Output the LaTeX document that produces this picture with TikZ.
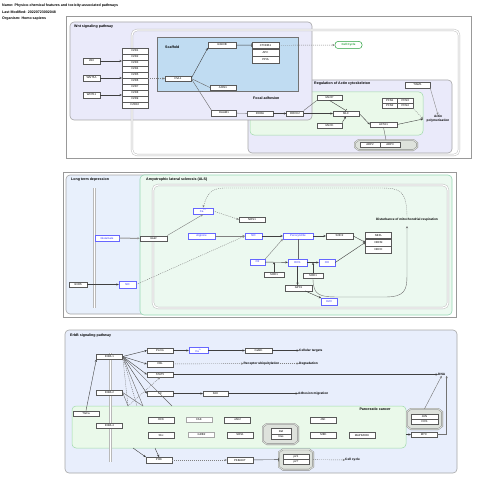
\documentclass[tikz,border=0pt]{standalone}
\usepackage{fontspec}
\setmainfont{Liberation Sans}
\usetikzlibrary{arrows.meta,positioning}
\definecolor{wntbg}{RGB}{234,234,250}
\definecolor{erbbg}{RGB}{232,238,252}
\definecolor{scafbg}{RGB}{192,220,242}
\definecolor{greenbg}{RGB}{234,249,234}
\definecolor{greenln}{RGB}{160,218,170}
\definecolor{ltdbg}{RGB}{232,240,252}
\definecolor{alsbg}{RGB}{236,249,240}
\definecolor{alsln}{RGB}{150,215,180}
\definecolor{cellgreen}{RGB}{40,160,60}
\definecolor{grpbg}{RGB}{222,226,220}
% octagon outline round a group node
\newcommand\octgrp[1]{\draw[grpline] ([yshift=-3pt]#1.north west) -- ([xshift=4pt]#1.north west) -- ([xshift=-4pt]#1.north east) -- ([yshift=-3pt]#1.north east) -- ([yshift=3pt]#1.south east) -- ([xshift=-4pt]#1.south east) -- ([xshift=4pt]#1.south west) -- ([yshift=3pt]#1.south west) -- cycle;}
\begin{document}
\begin{tikzpicture}[x=1pt,y=-1pt,
  gene/.style={draw=black!65, fill=white, line width=0.35pt, minimum width=26pt, minimum height=5.5pt, inner sep=0pt, font=\fontsize{2.8}{3}\selectfont},
  metab/.style={gene, draw=blue!60, text=blue!80, line width=0.45pt},
  grp/.style={inner sep=0pt},
  grpline/.style={draw=black!50, double=grpbg, double distance=0.9pt, line width=0.35pt, fill=grpbg},
  ttl/.style={font=\bfseries\fontsize{3.6}{4}\selectfont, anchor=west, inner sep=0pt},
  txt/.style={font=\bfseries\fontsize{3.2}{3.8}\selectfont, inner sep=0pt, align=center},
  panel/.style={draw=gray!70, line width=0.6pt, rounded corners=4pt},
  dbl/.style={draw=gray!55, double=white, double distance=1.3pt, line width=0.45pt, rounded corners=5pt},
  arr/.style={-{Stealth[length=2.4pt,width=2.2pt]}, draw=black!75, line width=0.4pt},
  dasharr/.style={arr, draw=black!50, dash pattern=on 1pt off 1pt},
  tbar/.style={-{Bar[width=3.5pt]}, draw=black!75, line width=0.4pt},
  plain/.style={draw=black!60, line width=0.4pt}]
\useasboundingbox (0,0) rectangle (480,484);
% header
\node[ttl] (hname) at (2,6) {Name: Physico-chemical features and toxicity-associated pathways};
\node[ttl] (hdate) at (2,12.5) {Last Modified: 20220723002048};
\node[ttl] (horg) at (2,19) {Organism: Homo sapiens};

% ---- Wnt / focal adhesion / actin
\draw[gray!80, line width=0.5pt] (66,16) rectangle (471,158);
\draw[panel, fill=wntbg] (248,80) rectangle (452,153);
\draw[rounded corners=4pt, draw=greenln, fill=greenbg, line width=0.5pt] (250,92) rectangle (423,135);
\draw[panel, fill=wntbg] (70,22) rectangle (312,120);
\draw[dbl] (132,30) rectangle (459,155);
\draw[draw=black!55, fill=scafbg, line width=0.5pt] (157,37) rectangle (298,91);
\node[ttl] (twnt) at (74,27) {Wnt signaling pathway};
\node[ttl] (tscaf) at (165,47) {Scaffold};
\node[ttl] (tfocal) at (253,98) {Focal adhesion};
\node[ttl] (tactin) at (314,84) {Regulation of Actin cytoskeleton};

\foreach \i in {1,...,10}
  \node[gene, minimum height=6pt] (fzd\i) at (135,45+6*\i) {FZD\i};
\node[gene, minimum width=17pt] (wnt) at (91.5,61) {Wnt};
\node[gene, minimum width=17pt] (wnt5a) at (91.5,78) {WNT5A};
\node[gene, minimum width=17pt] (wnt11) at (91.5,95) {WNT11};
\draw[arr] (wnt) -- (wnt.east -| fzd1.west);
\draw[arr] (wnt5a) -- (wnt5a.east -| fzd1.west);
\draw[arr] (wnt11) -- (wnt11.east -| fzd1.west);
\node[gene] (dvl) at (178,78.5) {DVL1};
\coordinate (fzdr) at (148,78.5);
\draw[dasharr] (fzdr) -- (dvl);
\node[gene, minimum width=28pt] (gsk) at (222,45) {GSK3B};
\node[gene] (axin) at (223,87.5) {AXIN1};
\node[gene, minimum width=25pt] (daam) at (224,113) {DAAM1};
\draw[arr] (dvl.east) -- (gsk.south west);
\draw[plain] (dvl.east) -- (axin.west);
\draw[plain] (dvl.east) -- (daam.north west);
\node[gene, minimum width=27pt, minimum height=6.7pt] (ctnnb) at (265.5,45.3) {CTNNB1};
\node[gene, minimum width=27pt, minimum height=6.7pt, below=0pt of ctnnb] (apc) {APC};
\node[gene, minimum width=27pt, minimum height=6.7pt, below=0pt of apc] (ppia) {PPIA};
\draw[tbar] (gsk) -- (ctnnb);
\node[draw=cellgreen, fill=white, rounded corners=3pt, line width=0.5pt, minimum width=27pt, minimum height=7pt, inner sep=0pt, text=cellgreen, font=\bfseries\fontsize{2.9}{3}\selectfont] (cellcyc) at (348.5,45) {Cell Cycle};
\draw[dasharr] (ctnnb) -- (cellcyc);

\node[gene] (rhoa) at (260,113.5) {RHOA};
\node[gene, minimum width=17pt] (rock) at (295,113.5) {ROCK2};
\node[gene, minimum width=25pt] (mlcp) at (329.5,97.5) {MLCP};
\node[gene] (mlc) at (346,113.5) {MLC};
\node[gene, minimum width=25pt] (mlck) at (329.5,125.5) {MLCK};
\draw[plain] (daam) -- (rhoa);
\draw[arr] (rhoa) -- (rock);
\draw[arr] (rock) -- (mlc);
\draw[plain] (rock.north east) -- (mlcp.south west);
\draw[tbar] (mlcp.south) -- (mlc.north);
\draw[arr] (mlck.north east) -- (mlc.south);

\node[gene, minimum width=25pt] (tiam) at (417.5,85) {TIAM1};
\node[txt] (actpol) at (438,118.5) {Actin\\polymerisation};
\coordinate (actin) at (423,119);
\node[gene, minimum width=15.5pt, minimum height=5pt] (pfn1) at (389.75,100.5) {PFN1};
\node[gene, minimum width=15.5pt, minimum height=5pt] (pfn3) at (405.25,100.5) {PFN3};
\node[gene, minimum width=15.5pt, minimum height=5pt] (pfn2) at (389.75,105.5) {PFN2};
\node[gene, minimum width=15.5pt, minimum height=5pt] (pfn4) at (405.25,105.5) {PFN4};
\node[gene, minimum width=27pt] (acta) at (383.5,124.5) {ACTA1};
\node[grp, minimum width=62pt, minimum height=10pt] (arp) at (386,145) {};
\octgrp{arp}
\node[gene, minimum width=20pt, minimum height=5pt] (arp2) at (370,144.5) {ARP2};
\node[gene, minimum width=20pt, minimum height=5pt] (arp3) at (390,144.5) {ARP3};
\draw[arr] (mlc.east) -- (acta.west);
\draw[arr] (acta.east) -- (actin);
\draw[dasharr] (pfn4.south east) -- (actin);
\draw[arr, draw=black!45] (tiam.south east) -- (actpol.north);
\draw[plain] (acta.south) -- (arp.north);

% ---- LTD / ALS
\draw[gray!80, line width=0.5pt] (63,172) rectangle (456,317);
\draw[panel, fill=ltdbg] (66,175) rectangle (175,314);
\draw[panel, draw=alsln, fill=alsbg] (140,175) rectangle (452,315);
\draw[dbl] (153,185) rectangle (448,308);
\draw[dbl, rounded corners=0pt] (94.5,188) -- (94.5,308);
\node[ttl] (tltd) at (71,180) {Long term depression};
\node[ttl] (tals) at (146,180) {Amyotrophic lateral sclerosis (ALS)};

\node[metab, minimum width=24pt] (glu) at (107,238) {Glutamate};
\node[gene, minimum width=27pt] (glur) at (153.5,238.5) {GluR};
\node[metab, minimum width=20pt, minimum height=6.5pt] (ca) at (203,211) {Ca\textsuperscript{2+}};
\node[gene] (nos1) at (252,219.5) {NOS1};
\node[metab, minimum width=27pt] (arg) at (201.5,236) {Arginine};
\node[metab, minimum width=17pt] (no) at (253.5,236) {NO};
\node[metab, minimum width=30pt] (perox) at (298,236) {Peroxynitrite};
\node[gene, minimum width=27pt] (sod2) at (339.5,236) {SOD2};
\node[gene, minimum height=6.7pt] (nefl) at (378.5,235.3) {NEFL};
\node[gene, minimum height=6.7pt, below=0pt of nefl] (nefm) {NEFM};
\node[gene, minimum height=6.7pt, below=0pt of nefm] (nefh) {NEFH};
\node[txt] (dist) at (407,220) {Disturbance of mitochondrial respiration};
\node[metab, minimum width=15pt] (o2) at (257.5,262) {O2};
\node[metab, minimum width=19pt, minimum height=6.5pt] (ros) at (297.5,262.5) {ROS};
\node[metab, minimum width=16pt, minimum height=6.5pt] (oh) at (327,262.5) {OH};
\node[gene, minimum width=20pt] (soda) at (274,274.5) {SOD1};
\node[gene, minimum width=20pt] (sodb) at (313,275.5) {SOD1};
\node[gene, minimum width=27pt] (gpx) at (298.5,288) {GPX1};
\node[metab, minimum width=16pt, minimum height=6.5pt] (h2o) at (329,301.5) {H2O};
\node[gene, minimum width=18pt] (nnos) at (78,284.5) {nNOS};
\node[metab, minimum width=17pt, minimum height=6.5pt] (noltd) at (127.5,284.5) {NO};

\draw[arr] (nnos) -- (noltd);
\draw[dasharr] (noltd.east) -- (no.west);
\draw[arr, draw=black!40, line width=1pt] (glu) -- (glur);
\draw[arr, draw=black!50] (glur.north east) -- (ca.south);
\draw[dasharr] (ca.east) -- (nos1.west);
\draw[dasharr] (dist.north) .. controls (407,190) and (400,188) .. (380,188) -- (225,188) .. controls (210,188) and (207,195) .. (ca.north);
\draw[arr, draw=black!50] (arg) -- (no);
\draw[arr] (no) -- (perox);
\draw[arr] (perox) -- (sod2);
\draw[arr] (sod2.east) -- (nefm.west);
\draw[arr] (oh.east) -- (nefm.west);
\draw[arr] (o2) -- (ros);
\draw[arr] (ros) -- (oh);
\draw[arr] (soda.north) -- (soda.north |- o2.east);
\draw[arr] (sodb.north) -- (sodb.north |- ros.east);
\draw[arr, draw=black!50] (o2.north east) -- (perox.south west);
\draw[plain] (perox.south) -- (perox.south |- ros.north);
\draw[arr] (ros.south) -- (ros.south |- gpx.north);
\draw[arr] (gpx) -- (h2o);
\draw[arr, draw=black!55] (sodb.south) .. controls (313,296) and (320,297) .. (340,297) -- (385,297) .. controls (405,297) and (407,290) .. (407,275) -- (407,226);

% ---- ErbB
\draw[panel, fill=erbbg] (65,330) rectangle (457,473);
\draw[rounded corners=4pt, draw=greenln, fill=greenbg, line width=0.5pt] (72,406) rectangle (406,448);
\draw[dbl, rounded corners=0pt] (110.5,353) -- (110.5,462);
\node[ttl] (terbb) at (70,336) {ErbB signaling pathway};
\node[ttl, anchor=center] (tpanc) at (375,409) {Pancreatic cancer};

\node[gene] (erbb1) at (109.5,356.5) {ErbB-1};
\node[gene] (erbb2) at (109.5,392.5) {ErbB-2};
\node[gene] (erbb4) at (109.5,425.5) {ErbB-4};
\node[gene] (tgfa) at (86,413.5) {TGFa};
\node[gene] (plcg) at (160,350.5) {PLCG};
\node[metab, minimum width=19pt, minimum height=6pt] (ca2) at (198.5,350.5) {Ca\textsuperscript{2+}};
\node[gene, minimum width=27pt] (camk) at (258.5,350.5) {CaMK};
\node[txt, anchor=west] (celltg) at (299,350.5) {Cellular targets};
\node[gene] (cbl) at (160,364) {CBL};
\node[txt] (recub) at (261.5,363.5) {Receptor ubiquitylation};
\node[txt, anchor=west] (degr) at (299,363.5) {Degradation};
\node[gene] (stat5) at (160,374.5) {STAT5};
\node[gene] (src) at (160,393.5) {Src};
\node[gene, minimum width=25pt] (fak) at (215.5,393.5) {FAK};
\node[txt, anchor=west] (adhes) at (298,393.5) {Adhesion migration};
\node[txt, anchor=west] (dna) at (438,374.5) {DNA};

\node[gene] (hck) at (161,420) {HCK};
\node[gene, draw=black!35, line width=0.8pt] (fak2) at (199,420) {FAK};
\node[gene] (jak2) at (237.5,420) {JAK2};
\node[gene] (jak) at (323,420) {JAK};
\node[gene] (shc) at (161,435) {Shc};
\node[gene, draw=black!35, line width=0.8pt] (grb2) at (201.5,435) {GRB2};
\node[gene] (sos) at (240,435) {SOS1};
\node[gene] (mek) at (323.5,435) {MEK};
\node[gene] (mapk) at (362,435) {MAPK/ERK};
\node[grp, minimum width=35pt, minimum height=20pt] (rasgrp) at (280.5,434) {};
\octgrp{rasgrp}
\node[gene, minimum width=20pt] (raf) at (281,431.3) {Raf};
\node[gene, minimum width=20pt] (ras) at (281,436.8) {Ras};
\node[grp, minimum width=35pt, minimum height=20pt] (jungrp) at (424.5,419) {};
\octgrp{jungrp}
\node[gene, minimum width=27pt, minimum height=5pt] (jun) at (424.5,416.5) {JUN};
\node[gene, minimum width=27pt, minimum height=5pt] (fos) at (424.5,421.5) {FOS};
\node[gene] (myc) at (424,434.5) {MYC};
\node[gene] (pi3k) at (159,460) {PI3K};
\node[gene] (akt) at (240,460) {PKB/AKT};
\node[grp, minimum width=34pt, minimum height=20pt] (pgrp) at (296,459.5) {};
\octgrp{pgrp}
\node[gene, minimum height=5pt] (p21) at (296,457) {p21};
\node[gene, minimum height=5pt] (p27) at (296,462) {p27};
\node[txt, anchor=west] (ccyc) at (345,460) {Cell cycle};

\coordinate (pa) at (128,406);
\coordinate (pb) at (143,406);
\coordinate (pc) at (172,406);
\coordinate (pd) at (137,406);
\coordinate (pe) at (133,448);
\coordinate (pf) at (155,448);
\coordinate (pg) at (406,434.5);
\draw[arr] (erbb1.east) -- (plcg.west);
\draw[arr] (erbb1.east) -- (cbl.west);
\draw[arr] (erbb1.east) -- (stat5.west);
\draw[arr] (erbb1.east) -- (src.west);
\draw[plain] (erbb1.east) -- (pb);
\draw[plain] (erbb1.east) -- (pc);
\draw[plain, dash pattern=on 1pt off 1pt] (erbb1.east) -- (pd);
\draw[plain, dash pattern=on 1pt off 1pt] (erbb1.east) -- (pa);
\draw[plain] (erbb2.east) -- (pa);
\draw[plain] (erbb2.east) -- (pb);
\draw[dasharr] (pa) -- (stat5.south);
\draw[arr] (tgfa.north) -- (erbb1.south west);
\draw[arr] (pe) -- (pi3k.north west);
\draw[arr] (pf) -- (pi3k.north);
\draw[arr] (plcg) -- (ca2);
\draw[arr] (ca2) -- (camk);
\draw[arr] (camk) -- (celltg);
\draw[dasharr] (cbl) -- (recub);
\draw[dasharr] (recub) -- (degr);
\draw[arr] (stat5) -- (dna);
\draw[arr] (src) -- (fak);
\draw[arr] (fak) -- (adhes);
\draw[arr] (pg) -- (myc);
\draw[arr, draw=black!55] (jungrp.north) -- (dna.south);
\draw[arr, draw=black!55] (myc.east) -| ([xshift=5pt]dna.south);
\draw[dasharr] (pi3k) -- (akt);
\draw[tbar] (akt) -- (pgrp);
\draw[dasharr] (pgrp) -- (ccyc);
\end{tikzpicture}
\end{document}
